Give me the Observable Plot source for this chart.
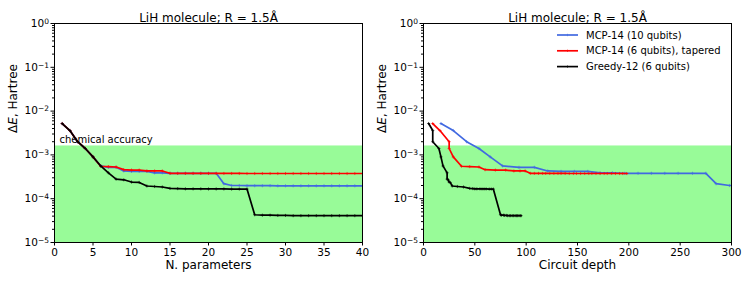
<!DOCTYPE html>
<html><head><meta charset="utf-8">
<script src="https://cdn.jsdelivr.net/npm/d3@7"></script>
<script src="https://cdn.jsdelivr.net/npm/@observablehq/plot@0.6"></script>
<style>
body{margin:0;background:#fff;font-family:"DejaVu Sans",sans-serif;}
#wrap{display:flex;width:748px;height:283px;position:relative;overflow:hidden;}
#wrap svg{display:block;}
#legend{position:absolute;left:0;top:0;pointer-events:none;}
</style></head><body><div id="wrap"></div>
<script>
// ---------------- data ----------------
const title = "LiH molecule; R = 1.5Å";
const yLabel = "ΔE, Hartree";
const chemAccuracy = 1.6e-3;
const chemLabel = "chemical accuracy";
const seriesNames = ["MCP-14 (10 qubits)", "MCP-14 (6 qubits), tapered", "Greedy-12 (6 qubits)"];
const seriesColors = ["#4169e1", "#ff0000", "#000000"];

const params = [1,2,3,4,5,6,7,8,9,10,11,12,13,14,15,16,17,18,19,20,21,22,23,24,25,26,27,28,29,30,31,32,33,34,35,36,37,38,39,40];

const mcp10E = [5.2e-3,3.6e-3,2.0e-3,1.4e-3,9.0e-4,5.6e-4,5.2e-4,5.2e-4,4.3e-4,4.2e-4,4.2e-4,4.2e-4,3.9e-4,3.9e-4,3.8e-4,3.8e-4,3.8e-4,3.8e-4,3.8e-4,3.8e-4,3.8e-4,2.2e-4,2.0e-4,2.0e-4,1.98e-4,1.98e-4,1.98e-4,1.98e-4,1.97e-4,1.97e-4,1.97e-4,1.97e-4,1.97e-4,1.97e-4,1.97e-4,1.97e-4,1.97e-4,1.97e-4,1.97e-4,1.97e-4];
const mcp10Depth = [17,29,42,54,65,77,93,108,121,134,147,160,172,184,196,209,222,235,248,262,275,285,298,311,324,337,350,363,376,389,402,415,428,441,454,467,480,493,506,519];

const mcp6E = [5.2e-3,3.6e-3,2.0e-3,1.4e-3,9.0e-4,5.5e-4,5.4e-4,5.3e-4,4.6e-4,4.5e-4,4.5e-4,4.3e-4,4.3e-4,4.3e-4,3.8e-4,3.78e-4,3.78e-4,3.78e-4,3.78e-4,3.77e-4,3.77e-4,3.77e-4,3.77e-4,3.77e-4,3.76e-4,3.76e-4,3.76e-4,3.76e-4,3.76e-4,3.76e-4,3.76e-4,3.76e-4,3.76e-4,3.76e-4,3.76e-4,3.76e-4,3.76e-4,3.76e-4,3.76e-4,3.76e-4];
const mcp6Depth = [9,16,25,25,29,37,45,54,60,70,80,88,94,99,104,108,112,116,119,123,127,131,134,138,142,146,149,153,157,161,164,168,172,176,179,183,187,191,194,198];

const greedyE = [5.2e-3,3.6e-3,2.0e-3,1.4e-3,9.0e-4,5.6e-4,3.9e-4,2.8e-4,2.7e-4,2.4e-4,2.35e-4,1.95e-4,1.9e-4,1.85e-4,1.72e-4,1.7e-4,1.68e-4,1.68e-4,1.68e-4,1.67e-4,1.67e-4,1.67e-4,1.66e-4,1.66e-4,1.66e-4,4.3e-5,4.2e-5,4.2e-5,4.15e-5,4.15e-5,4.1e-5,4.1e-5,4.1e-5,4.1e-5,4.1e-5,4.1e-5,4.1e-5,4.1e-5,4.1e-5,4.1e-5];
const greedyDepth = [5,9,9,15,17,19,23,23,24,25,26,28,33,39,45,48,50,52,55,57,59,61,64,66,68,75,76,78,79,81,82,84,85,87,88,90,91,92,94,95];

const yMajorTicks = [1e-5,1e-4,1e-3,1e-2,1e-1,1];
const yMajorExponents = ["−5","−4","−3","−2","−1","0"];
const xTicksLeft = [0,5,10,15,20,25,30,35,40];
const xTicksRight = [0,50,100,150,200,250,300];

// ---------------- build ----------------
function rows(E, D, s) {
  return params.map((p, i) => ({param: p, depth: D[i], e: E[i], s}));
}
const series = [
  rows(mcp10E, mcp10Depth, 0),
  rows(mcp6E, mcp6Depth, 1),
  rows(greedyE, greedyDepth, 2)
];
const yMinor = [];
for (const m of yMajorTicks.slice(0, -1)) for (let k = 2; k <= 9; k++) yMinor.push(m * k);
const yTickText = yMajorExponents.map(e => "10^" + e);

function panel({xKey, xDomain, xTicks, xLabel, showChem, mL, mR}) {
  const lineMarks = [];
  series.forEach((data, i) => {
    lineMarks.push(Plot.line(data, {x: xKey, y: "e", stroke: seriesColors[i], strokeWidth: 1.7, clip: true}));
    lineMarks.push(Plot.dot(data, {x: xKey, y: "e", symbol: "plus", r: 1.1, stroke: seriesColors[i], strokeWidth: 0.6, clip: true}));
  });
  const svg = Plot.plot({
    width: 374, height: 283,
    marginLeft: mL, marginRight: mR, marginTop: 23, marginBottom: 41,
    style: {fontFamily: "DejaVu Sans", fontSize: "10.5px", background: "transparent", color: "black"},
    x: {domain: xDomain},
    y: {type: "log", domain: [1e-5, 1]},
    marks: [
      Plot.rect([chemAccuracy], {x1: xDomain[0], x2: xDomain[1], y1: 1e-5, y2: d => d, fill: "#98fb98"}),
      ...(showChem ? [Plot.text([chemLabel], {x: xDomain[0], y: chemAccuracy, text: d => d, textAnchor: "start", lineAnchor: "bottom", dx: 5, dy: -3, fontSize: 10, fill: "black"})] : []),
      ...lineMarks,
      Plot.frame({stroke: "black", strokeWidth: 1}),
      Plot.axisX({ticks: xTicks, tickSize: 3.5, tickPadding: 2.5, label: null, fontSize: 10.5}),
      Plot.axisY({ticks: yMajorTicks, tickFormat: d => yTickText[yMajorTicks.indexOf(d)], tickSize: 3.5, tickPadding: 2, label: null, fontSize: 10.5}),
      Plot.axisY({ticks: yMinor, tickFormat: () => "", tickSize: 2, label: null}),
      Plot.text([xLabel], {frameAnchor: "bottom", dy: 26, text: d => d, fontSize: 12, fill: "black"}),
      Plot.text([title], {frameAnchor: "top", dy: -10, text: d => d, fontSize: 12, fill: "black"}),
      Plot.text([yLabel], {frameAnchor: "left", dx: -41, rotate: -90, text: d => d, fontSize: 12, fill: "black"})
    ]
  });
  const root = d3.select(svg);
  root.selectAll("text").filter(function(){ return this.textContent === yLabel; }).each(function(){
    const t = d3.select(this);
    t.text("");
    t.append("tspan").text("Δ");
    t.append("tspan").attr("font-style", "italic").text("E");
    t.append("tspan").text(", Hartree");
  });
  root.selectAll("text").filter(function(){ return yTickText.includes(this.textContent); }).each(function(){
    const t = d3.select(this);
    const exp = this.textContent.split("^")[1];
    t.text("");
    t.append("tspan").text("10");
    t.append("tspan").attr("dy", "-0.42em").attr("font-size", "7.5px").text(exp);
  });
  return svg;
}

const wrap = document.getElementById("wrap");
wrap.appendChild(panel({xKey: "param", xDomain: [0, 40], xTicks: xTicksLeft, xLabel: "N. parameters", showChem: true, mL: 54, mR: 12}));
wrap.appendChild(panel({xKey: "depth", xDomain: [0, 300], xTicks: xTicksRight, xLabel: "Circuit depth", showChem: false, mL: 49, mR: 17}));

// legend (right panel, upper right)
const leg = d3.select(wrap).append("svg").attr("id", "legend").attr("width", 748).attr("height", 283)
  .style("font-family", "DejaVu Sans").style("font-size", "10px");
seriesNames.forEach((name, i) => {
  const y = 35 + i * 15.8;
  const g = leg.append("g");
  g.append("line").attr("x1", 557).attr("x2", 578).attr("y1", y).attr("y2", y).attr("stroke", seriesColors[i]).attr("stroke-width", 1.7);
  g.append("path").attr("d", `M567.5,${y-1.2}V${y+1.2}`).attr("stroke", seriesColors[i]).attr("stroke-width", 0.6);
  g.append("text").attr("x", 586).attr("y", y).attr("dy", "0.35em").text(name);
});
</script>
</body></html>
